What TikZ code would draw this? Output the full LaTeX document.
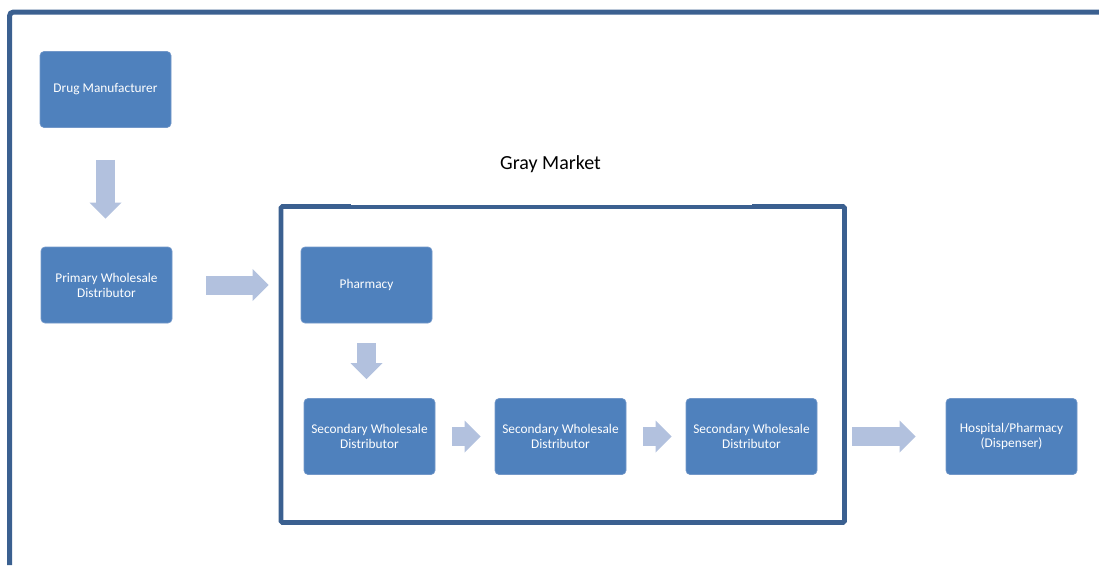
\documentclass[tikz,border=0pt]{standalone}
\usepackage{fontspec}
\setmainfont{Carlito}
\usetikzlibrary{arrows.meta}
\definecolor{boxblue}{HTML}{4F81BD}
\definecolor{boxedge}{HTML}{7398C9}
\definecolor{flowblue}{HTML}{B2C1DE}
\definecolor{frameblue}{HTML}{3B6090}

\begin{document}
\begin{tikzpicture}[x=0.75pt,y=-0.75pt,
  box/.style={draw=boxedge,line width=.5pt,fill=boxblue,rounded corners=3pt,minimum width=98.25pt,minimum height=57pt,inner sep=0pt,text=white,align=center,font=\fontsize{10}{11.2}\selectfont},
  flow/.style={draw=flowblue,line width=14.25pt,-{Triangle[length=12pt,width=24pt,line width=0pt]}}]
\useasboundingbox (0,0) rectangle (1099,565);
\draw[frameblue,line width=3.75pt,rounded corners=3pt] (9.5,565) -- (9.5,12) -- (1099,12);
\node[draw=frameblue,line width=3.5pt,rounded corners=1pt,minimum width=422.6pt,minimum height=237pt,inner sep=0pt] (gm) at (562.75,364.5) {};
\draw[white,line width=1pt] (351,204.8) -- (752,204.8);
\node[anchor=base,font=\fontsize{15}{18}\selectfont] (gmlabel) at (550.5,169.3) {Gray Market};
\node[box] (dm) at (105.5,89.5) {Drug Manufacturer};
\node[box] (pwd) at (106.5,285) {Primary Wholesale\\Distributor};
\node[box] (ph) at (366.5,285) {Pharmacy};
\node[box] (swa) at (369.5,436.5) {Secondary Wholesale\\Distributor};
\node[box] (swb) at (560.5,436.5) {Secondary Wholesale\\Distributor};
\node[box] (swc) at (751.5,436.5) {Secondary Wholesale\\Distributor};
\node[box] (hosp) at (1011.5,436.5) {Hospital/Pharmacy\\(Dispenser)};
\draw[flow,shorten <=24pt,shorten >=21pt] (dm.south) -- (dm.south |- pwd.north);
\draw[flow,shorten <=25.5pt,shorten >=7.5pt] (pwd.east) -- (pwd.east -| gm.west);
\draw[flow,shorten <=15pt,shorten >=14.25pt] (ph.south) -- (ph.south |- swa.north);
\draw[flow,shorten <=12.75pt,shorten >=10.5pt] (swa) -- (swb);
\draw[flow,shorten <=12.75pt,shorten >=10.5pt] (swb) -- (swc);
\draw[flow,shorten <=26.25pt,shorten >=22.5pt] (swc) -- (hosp);
\end{tikzpicture}
\end{document}
